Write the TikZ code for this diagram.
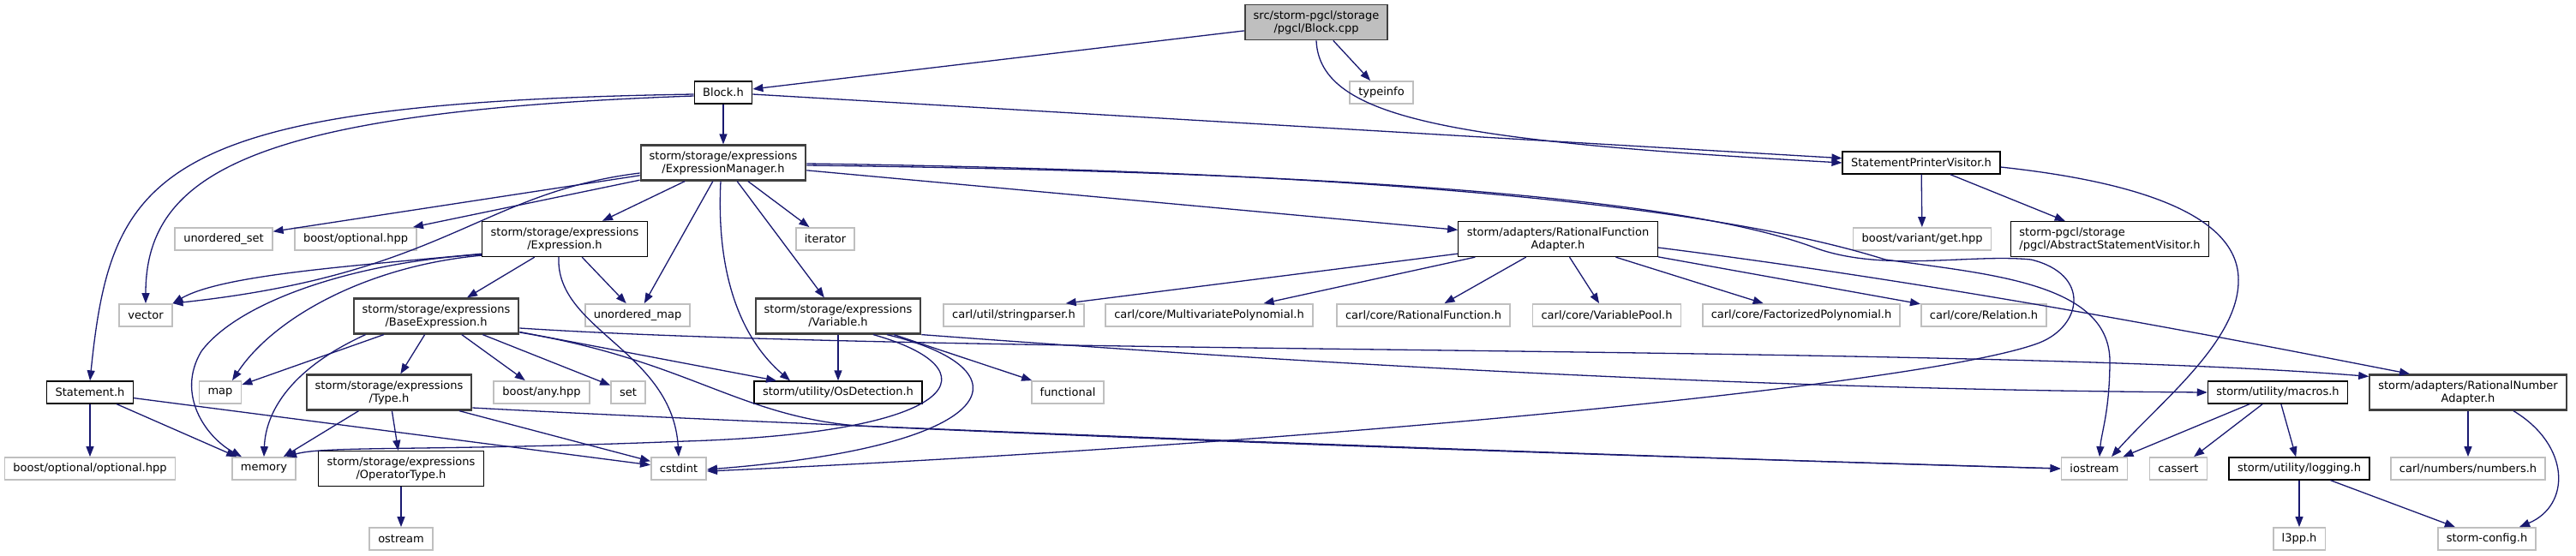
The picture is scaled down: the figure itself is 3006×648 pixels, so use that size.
\documentclass[tikz,border=0pt]{standalone}
\usepackage{fontspec}
\usetikzlibrary{arrows.meta}
\newfontfamily\graphfont{DejaVu Sans}
\definecolor{edgeblue}{RGB}{25,25,112}
\definecolor{lightgrey}{RGB}{191,191,191}
\definecolor{darkgrey}{RGB}{64,64,64}
\tikzset{
  file/.style={draw=black, line width=1.3pt, fill=white, font={\graphfont\fontsize{13}{15}\selectfont}, inner xsep=10pt, inner ysep=2pt, minimum height=26pt, align=center},
  twoline/.style={minimum height=41pt},
  filegrey/.style={file, draw=darkgrey, line width=2.2pt},
  sysfile/.style={file, draw=lightgrey, line width=1.8pt},
  rootfile/.style={file, twoline, fill=lightgrey, draw=darkgrey, line width=1.8pt},
  dep/.style={draw=edgeblue, line width=1.3pt, -{Triangle[length=12pt,width=9pt]}},
}
\begin{document}
\begin{tikzpicture}[x=1pt,y=-1pt]
\useasboundingbox (0,0) rectangle (3006,648);

% Nodes, row by row
\node[rootfile] (cpp) at (1536,26) {src/storm-pgcl/storage\\/pgcl/Block.cpp};

\node[file] (blockh) at (844,108) {Block.h};
\node[sysfile] (typeinfo) at (1612,108) {typeinfo};

\node[filegrey,twoline] (exprmgr) at (844,190) {storm/storage/expressions\\/ExpressionManager.h};
\node[file] (spv) at (2242,190) {StatementPrinterVisitor.h};

\node[sysfile] (unordset) at (261,279) {unordered\_set};
\node[sysfile] (boostopt) at (415,279) {boost/optional.hpp};
\node[file,twoline] (expression) at (659,279) {storm/storage/expressions\\/Expression.h};
\node[sysfile] (iterator) at (963,279) {iterator};
\node[file,twoline] (rfa) at (1818,279) {storm/adapters/RationalFunction\\Adapter.h};
\node[sysfile] (variantget) at (2243,279) {boost/variant/get.hpp};
\node[file,twoline,align=left] (absvisitor) at (2462,279) {storm-pgcl/storage\\/pgcl/AbstractStatementVisitor.h};

\node[sysfile] (vector) at (170,368) {vector};
\node[filegrey,twoline] (baseexpr) at (509,369) {storm/storage/expressions\\/BaseExpression.h};
\node[sysfile] (unordmap) at (744,368) {unordered\_map};
\node[filegrey,twoline] (variable) at (978,369) {storm/storage/expressions\\/Variable.h};
\node[sysfile] (stringparser) at (1183,368) {carl/util/stringparser.h};
\node[sysfile] (multipoly) at (1411,368) {carl/core/MultivariatePolynomial.h};
\node[sysfile] (ratfunc) at (1661,368) {carl/core/RationalFunction.h};
\node[sysfile] (varpool) at (1875,368) {carl/core/VariablePool.h};
\node[sysfile] (factpoly) at (2102,368) {carl/core/FactorizedPolynomial.h};
\node[sysfile] (relation) at (2315,368) {carl/core/Relation.h};

\node[file] (statement) at (105,458) {Statement.h};
\node[sysfile] (map) at (257,458) {map};
\node[filegrey,twoline] (type) at (454,458) {storm/storage/expressions\\/Type.h};
\node[sysfile] (boostany) at (632,458) {boost/any.hpp};
\node[sysfile] (set) at (733,458) {set};
\node[file] (osdet) at (978,458) {storm/utility/OsDetection.h};
\node[sysfile] (functional) at (1246,458) {functional};
\node[file] (macros) at (2658,458) {storm/utility/macros.h};
\node[filegrey,twoline] (rna) at (2880,458) {storm/adapters/RationalNumber\\Adapter.h};

\node[sysfile] (optopt) at (105,547) {boost/optional/optional.hpp};
\node[sysfile] (memory) at (308,547) {memory};
\node[file,twoline] (optype) at (468,547) {storm/storage/expressions\\/OperatorType.h};
\node[sysfile] (cstdint) at (792,547) {cstdint};
\node[sysfile] (iostream) at (2444,547) {iostream};
\node[sysfile] (cassert) at (2542,547) {cassert};
\node[file] (logging) at (2683,547) {storm/utility/logging.h};
\node[sysfile] (numbers) at (2880,547) {carl/numbers/numbers.h};

\node[sysfile] (ostream) at (468,629) {ostream};
\node[sysfile] (l3pp) at (2683,629) {l3pp.h};
\node[sysfile] (stormconfig) at (2902,629) {storm-config.h};

% Block.cpp
\draw[dep] (cpp) -- (blockh);
\draw[dep] (cpp) -- (typeinfo);
\draw[dep] (cpp.south) .. controls (1540,140) and (1700,165) .. (spv.west);

% Block.h
\draw[dep] (blockh) -- (exprmgr);
\draw[dep] (blockh) -- (spv);
\draw[dep] ([yshift=-4pt]blockh.west) .. controls (300,130) and (170,200) .. (vector.north);
\draw[dep] ([yshift=-2pt]blockh.west) .. controls (180,120) and (130,200) .. (statement.north);

% Statement.h
\draw[dep] (statement) -- (optopt);
\draw[dep] (statement) -- (memory);
\draw[dep] (statement) -- (cstdint);

% ExpressionManager.h
\draw[dep] (exprmgr) -- (unordset);
\draw[dep] (exprmgr) -- (boostopt);
\draw[dep] (exprmgr) -- (expression);
\draw[dep] (exprmgr) -- (unordmap);
\draw[dep] (exprmgr) -- (variable);
\draw[dep] (exprmgr) -- (iterator);
\draw[dep] (exprmgr) -- (rfa);
\draw[dep] ([yshift=-12pt]exprmgr.west) .. controls (560,225) and (520,320) .. (vector.north east);
\draw[dep] ([xshift=-3pt]exprmgr.south) .. controls (835,330) and (870,400) .. ([xshift=-56pt]osdet.north);
\draw[dep] ([yshift=-3pt]exprmgr.east) .. controls (1500,200) and (1950,225) .. (2120,290)
  .. controls (2200,318) and (2300,296) .. (2370,303)
  .. controls (2440,320) and (2430,380) .. (2380,400)
  .. controls (2250,450) and (1500,520) .. ([yshift=-3pt]cstdint.east);
\draw[dep] ([yshift=-1pt]exprmgr.east) .. controls (1600,200) and (2000,240) .. (2200,303)
  .. controls (2320,320) and (2460,330) .. (2462,420)
  .. controls (2462,480) and (2452,505) .. ([xshift=6pt]iostream.north);

% Expression.h
\draw[dep] ([yshift=4pt]expression.south west) .. controls (420,310) and (260,320) .. (vector.north east);
\draw[dep] ([yshift=3pt]expression.south west) .. controls (420,305) and (280,350) .. (235,410)
  .. controls (205,460) and (240,510) .. ([xshift=12pt]memory.north west);
\draw[dep] ([yshift=2pt]expression.south west) .. controls (430,310) and (320,370) .. ([xshift=14pt]map.north);
\draw[dep] (expression) -- (unordmap);
\draw[dep] (expression) -- (baseexpr);
\draw[dep] ([xshift=-7pt]expression.south) .. controls (648,385) and (785,410) .. (cstdint.north);

% BaseExpression.h
\draw[dep] (baseexpr) -- (map);
\draw[dep] ([xshift=15pt]baseexpr.south west) .. controls (340,430) and (310,480) .. (memory.north);
\draw[dep] (baseexpr) -- (type);
\draw[dep] (baseexpr) -- (boostany);
\draw[dep] (baseexpr) -- (set);
\draw[dep] (baseexpr) -- (osdet);
\draw[dep] ([yshift=-14pt]baseexpr.east) .. controls (1100,415) and (2300,402) .. ([yshift=-3pt]rna.north west);
\draw[dep] ([yshift=-19pt]baseexpr.east) .. controls (800,420) and (860,485) .. (1000,497)
  .. controls (1500,520) and (2000,535) .. (iostream.west);

% Type.h
\draw[dep] (type) -- (memory);
\draw[dep] (type) -- (optype);
\draw[dep] (type) -- (cstdint);
\draw[dep] ([yshift=-18pt]type.east) .. controls (900,495) and (1800,530) .. (iostream.west);
\draw[dep] (optype) -- (ostream);

% Variable.h
\draw[dep] (variable) -- (osdet);
\draw[dep] (variable) -- (functional);
\draw[dep] (variable.south east) .. controls (1600,430) and (2100,455) .. (macros.west);
\draw[dep] ([xshift=57pt]variable.south) .. controls (1200,430) and (1180,520) .. ([yshift=-1pt]cstdint.east);
\draw[dep] ([xshift=41pt]variable.south) .. controls (1160,430) and (1130,505) .. (800,515)
  .. controls (500,527) and (380,520) .. ([xshift=-12pt]memory.north east);

% RationalFunctionAdapter.h
\draw[dep] ([yshift=4pt]rfa.south west) -- ([xshift=-22pt]stringparser.north east);
\draw[dep] (rfa) -- (multipoly);
\draw[dep] (rfa) -- (ratfunc);
\draw[dep] (rfa) -- (varpool);
\draw[dep] (rfa) -- (factpoly);
\draw[dep] (rfa) -- (relation);
\draw[dep] ([yshift=-10pt]rfa.east) .. controls (2300,335) and (2650,405) .. ([xshift=-68pt]rna.north);

% StatementPrinterVisitor.h
\draw[dep] (spv) -- (variantget);
\draw[dep] (spv) -- (absvisitor);
\draw[dep] ([yshift=-5pt]spv.east) .. controls (2520,215) and (2615,260) .. (2612,330)
  .. controls (2610,400) and (2520,470) .. ([xshift=20pt]iostream.north);

% macros.h, logging.h, RationalNumberAdapter.h
\draw[dep] (macros) -- (iostream);
\draw[dep] (macros) -- (cassert);
\draw[dep] (macros) -- (logging);
\draw[dep] (logging) -- (l3pp);
\draw[dep] (logging) -- (stormconfig);
\draw[dep] (rna) -- (numbers);
\draw[dep] ([xshift=53pt]rna.south) .. controls (3000,520) and (3000,590) .. ([xshift=38pt]stormconfig.north);

\end{tikzpicture}
\end{document}
